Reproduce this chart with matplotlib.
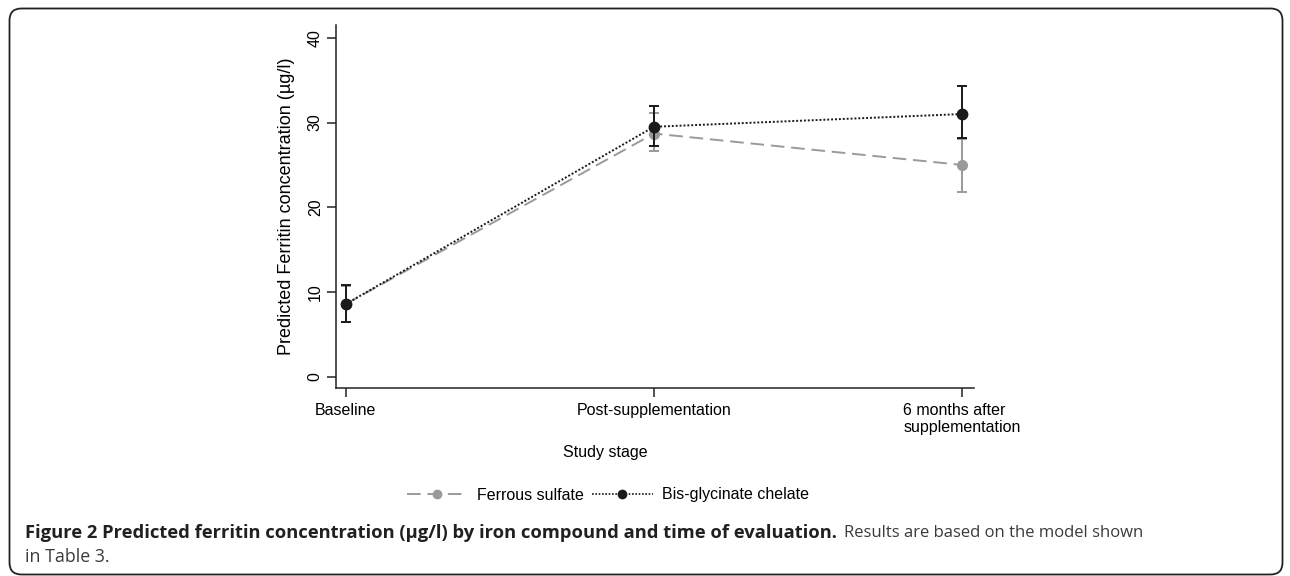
import matplotlib
matplotlib.use("Agg")
import matplotlib.pyplot as plt
from matplotlib.patches import FancyBboxPatch
from matplotlib.lines import Line2D
from matplotlib.transforms import IdentityTransform

# data
stages = ["Baseline", "Post-supplementation", "6 months after\nsupplementation"]
ferrous = [8.6, 28.7, 25.0]
ferrous_lo = [6.5, 26.6, 21.8]
ferrous_hi = [10.7, 31.1, 28.0]
chelate = [8.6, 29.5, 31.0]
chelate_lo = [6.5, 27.2, 28.2]
chelate_hi = [10.8, 32.0, 34.3]

plt.rcParams['font.family'] = ['Liberation Sans', 'DejaVu Sans']

fig = plt.figure(figsize=(12.9, 5.76), dpi=100)
ax = fig.add_axes([336/1290, 1-388/576, (974-336)/1290, (388-25)/576])

x = list(range(len(stages)))
gray = '#9a9a9a'
black = '#1a1a1a'
dash = (0, (7, 3.5))
dot = (0, (1, 1))

ax.errorbar(x, ferrous,
            yerr=[[a-b for a, b in zip(ferrous, ferrous_lo)], [b-a for a, b in zip(ferrous, ferrous_hi)]],
            color=gray, ecolor=gray, linestyle=dash, lw=1.4, marker='o', ms=7,
            capsize=3.6, elinewidth=1.4, capthick=1.4, zorder=2)
ax.errorbar(x, chelate,
            yerr=[[a-b for a, b in zip(chelate, chelate_lo)], [b-a for a, b in zip(chelate, chelate_hi)]],
            color=black, ecolor=black, linestyle=dot, lw=1.4, marker='o', ms=7.5,
            capsize=3.6, elinewidth=1.4, capthick=1.4, zorder=3)

ax.set_xlim(-0.032, 2.039)
ax.set_ylim(-1.3, 41.5)
ax.set_yticks([0, 10, 20, 30, 40])
ax.set_xticks(x)
ax.set_xticklabels(stages, fontsize=11.5, multialignment='left')
for t in ax.get_yticklabels():
    t.set_rotation(90)
    t.set_va('center')
    t.set_fontsize(11.5)
ax.tick_params(direction='out', length=6.5, width=1.1, color='#222222')
ax.tick_params(axis='y', pad=3)
ax.tick_params(axis='x', pad=4)
for s in ['top', 'right']:
    ax.spines[s].set_visible(False)
for s in ['left', 'bottom']:
    ax.spines[s].set_linewidth(1.1)
    ax.spines[s].set_color('#222222')

ax.set_ylabel('Predicted Ferritin concentration (µg/l)', fontsize=13, labelpad=9)
ax.set_xlabel('Study stage', fontsize=11.5, labelpad=9)
ax.xaxis.set_label_coords(605/1290, 1-453/576, transform=fig.transFigure)
ax.xaxis.label.set_va('center')

handles = [Line2D([], [], color=gray, linestyle=dash, lw=1.4, marker='o', ms=6),
           Line2D([], [], color=black, linestyle=dot, lw=1.2, marker='o', ms=6)]
leg = ax.legend(handles, ['Ferrous sulfate', 'Bis-glycinate chelate'],
                loc='center', bbox_to_anchor=(608/1290, 1-495/576), bbox_transform=fig.transFigure,
                ncol=2, frameon=False, fontsize=11.5, handlelength=3.8, columnspacing=0.5,
                handletextpad=0.6)

# rounded frame around the figure
frame = FancyBboxPatch((9.5, 1.5), 1273, 566, boxstyle="round,pad=0,rounding_size=12",
                       transform=IdentityTransform(), fill=False, edgecolor='#222222', lw=1.3)
fig.patches.append(frame)

# caption
fig.canvas.draw()
r = fig.canvas.get_renderer()
cap1 = fig.text(25/1290, 1-533/576, 'Figure 2 Predicted ferritin concentration (µg/l) by iron compound and time of evaluation.',
                fontsize=13.2, fontweight='bold', family='Open Sans', va='center', color='#231f20')
bb = cap1.get_window_extent(r)
fig.text((bb.x1 + 7)/1290, 1-533/576, 'Results are based on the model shown',
         fontsize=12.0, family='Open Sans', va='center', color='#3a3a3a')
fig.text(25/1290, 1-557/576, 'in Table 3.', fontsize=12.8, family='Open Sans', va='center', color='#3a3a3a')

fig.savefig('out.png', dpi=100)
